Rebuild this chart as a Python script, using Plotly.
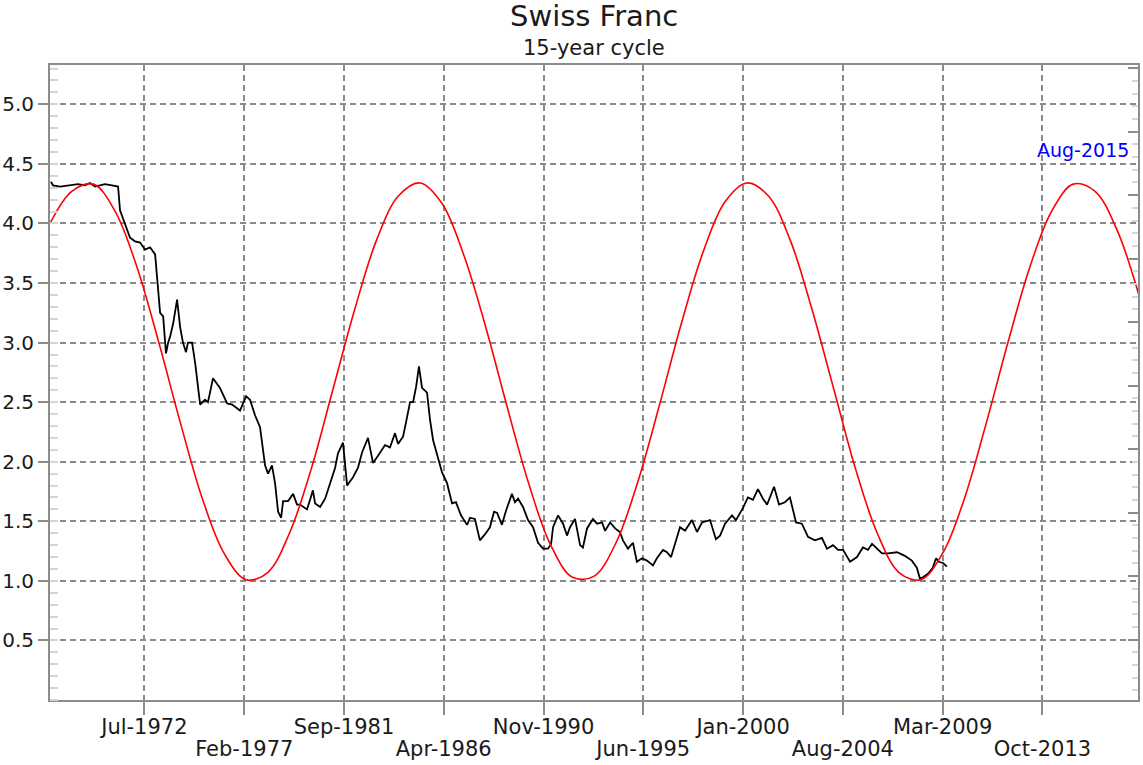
import pandas as pd
import plotly.graph_objects as go

# ---- data ----
# Swiss franc per US dollar (time in decimal years)
black_years = [
    1968.21, 1968.30, 1968.63, 1969.09, 1969.45, 1969.77, 1970.00, 1970.23, 1970.46, 1970.69,
    1971.01, 1971.29, 1971.38, 1971.61, 1971.84, 1972.07, 1972.30, 1972.53, 1972.76, 1972.99,
    1973.08, 1973.22, 1973.36, 1973.49, 1973.59, 1973.68, 1973.82, 1974.00, 1974.14, 1974.27,
    1974.41, 1974.50, 1974.69, 1974.83, 1975.06, 1975.28, 1975.42, 1975.65, 1975.97, 1976.30,
    1976.53, 1976.89, 1977.17, 1977.35, 1977.58, 1977.81, 1978.04, 1978.18, 1978.36, 1978.50,
    1978.64, 1978.78, 1978.87, 1979.10, 1979.33, 1979.51, 1979.65, 1979.97, 1980.11, 1980.24,
    1980.34, 1980.57, 1980.80, 1981.03, 1981.26, 1981.39, 1981.62, 1981.81, 1982.08, 1982.31,
    1982.50, 1982.77, 1983.00, 1983.23, 1983.55, 1983.78, 1984.01, 1984.15, 1984.38, 1984.56,
    1984.70, 1984.84, 1984.98, 1985.11, 1985.25, 1985.48, 1985.62, 1985.76, 1985.94, 1986.17,
    1986.40, 1986.63, 1986.81, 1987.04, 1987.32, 1987.46, 1987.68, 1987.91, 1988.14, 1988.37,
    1988.56, 1988.70, 1988.92, 1989.11, 1989.38, 1989.52, 1989.66, 1989.89, 1990.12, 1990.35,
    1990.58, 1990.81, 1991.04, 1991.18, 1991.27, 1991.50, 1991.73, 1991.91, 1992.05, 1992.28,
    1992.51, 1992.64, 1992.83, 1993.10, 1993.29, 1993.52, 1993.66, 1993.89, 1994.12, 1994.34,
    1994.48, 1994.71, 1994.94, 1995.12, 1995.36, 1995.58, 1995.86, 1996.04, 1996.32, 1996.50,
    1996.69, 1996.87, 1997.10, 1997.33, 1997.65, 1997.88, 1998.11, 1998.48, 1998.75, 1998.94,
    1999.17, 1999.49, 1999.67, 1999.99, 2000.22, 2000.45, 2000.68, 2000.91, 2001.10, 2001.42,
    2001.65, 2001.92, 2002.15, 2002.43, 2002.70, 2002.98, 2003.30, 2003.62, 2003.85, 2004.13,
    2004.36, 2004.59, 2004.91, 2005.23, 2005.50, 2005.73, 2005.92, 2006.15, 2006.38, 2006.65,
    2007.07, 2007.43, 2007.75, 2007.98, 2008.12, 2008.26, 2008.49, 2008.71, 2008.86, 2008.99,
    2009.18, 2009.36,
]
black_values = [
    4.35, 4.32, 4.31, 4.32, 4.33, 4.32, 4.34, 4.31, 4.32, 4.33,
    4.32, 4.31, 4.11, 3.99, 3.88, 3.85, 3.84, 3.78, 3.80, 3.74,
    3.55, 3.25, 3.22, 2.91, 3.00, 3.05, 3.16, 3.36, 3.13, 3.00,
    2.92, 3.00, 3.00, 2.83, 2.48, 2.52, 2.50, 2.70, 2.62, 2.49,
    2.48, 2.43, 2.55, 2.52, 2.39, 2.29, 1.97, 1.90, 1.97, 1.82,
    1.58, 1.53, 1.67, 1.67, 1.73, 1.64, 1.64, 1.60, 1.68, 1.76,
    1.65, 1.62, 1.69, 1.83, 1.95, 2.07, 2.16, 1.80, 1.87, 1.95,
    2.08, 2.20, 1.99, 2.05, 2.14, 2.12, 2.24, 2.15, 2.21, 2.37,
    2.50, 2.50, 2.63, 2.80, 2.62, 2.58, 2.35, 2.18, 2.07, 1.91,
    1.82, 1.65, 1.66, 1.55, 1.47, 1.53, 1.52, 1.34, 1.39, 1.45,
    1.58, 1.57, 1.47, 1.59, 1.73, 1.66, 1.69, 1.62, 1.51, 1.45,
    1.32, 1.27, 1.27, 1.31, 1.45, 1.55, 1.48, 1.38, 1.45, 1.52,
    1.30, 1.28, 1.44, 1.52, 1.48, 1.49, 1.42, 1.49, 1.44, 1.41,
    1.34, 1.27, 1.32, 1.16, 1.19, 1.17, 1.13, 1.19, 1.26, 1.24,
    1.20, 1.32, 1.45, 1.42, 1.51, 1.41, 1.49, 1.51, 1.35, 1.38,
    1.48, 1.55, 1.51, 1.61, 1.70, 1.68, 1.77, 1.69, 1.64, 1.79,
    1.64, 1.66, 1.70, 1.49, 1.48, 1.37, 1.34, 1.36, 1.27, 1.30,
    1.26, 1.26, 1.16, 1.20, 1.28, 1.26, 1.31, 1.27, 1.23, 1.23,
    1.24, 1.21, 1.17, 1.11, 1.02, 1.03, 1.06, 1.11, 1.19, 1.16,
    1.15, 1.12,
]

# 15-year cycle curve (one reading per year, March)
cycle_dates = [f"{y}-03-01" for y in range(1968, 2019)]
cycle_values = [
    4.00, 4.27, 4.33, 4.10, 3.63, 3.00, 2.32, 1.69, 1.23, 1.01,
    1.07, 1.40, 1.94, 2.61, 3.28, 3.86, 4.23, 4.34, 4.17, 3.74,
    3.14, 2.46, 1.81, 1.30, 1.03, 1.04, 1.32, 1.83, 2.48, 3.16,
    3.76, 4.18, 4.34, 4.23, 3.86, 3.28, 2.61, 1.94, 1.40, 1.07,
    1.01, 1.23, 1.69, 2.32, 3.00, 3.63, 4.10, 4.33, 4.27, 3.95,
    3.41,
]

tick_dates = ["1972-07-01", "1977-02-01", "1981-09-01", "1986-04-01", "1990-11-01",
              "1995-06-01", "2000-01-01", "2004-08-01", "2009-03-01", "2013-10-01"]
tick_labels = ["Jul-1972", "Feb-1977", "Sep-1981", "Apr-1986", "Nov-1990",
               "Jun-1995", "Jan-2000", "Aug-2004", "Mar-2009", "Oct-2013"]
y_ticks = [0.5, 1.0, 1.5, 2.0, 2.5, 3.0, 3.5, 4.0, 4.5, 5.0]

peak_label = "Aug-2015"
peak_date = "2015-08-10"
peak_label_y = 4.62


def dec_to_date(y):
    year = int(y)
    start = pd.Timestamp(year=year, month=1, day=1)
    end = pd.Timestamp(year=year + 1, month=1, day=1)
    return start + (end - start) * (y - year)


black_dates = [dec_to_date(v) for v in black_years]

# alternate rows of x tick labels: first row on x, second row on x2
row1_text = [lab if i % 2 == 0 else "" for i, lab in enumerate(tick_labels)]
row2_vals = [d for i, d in enumerate(tick_dates) if i % 2 == 1]
row2_text = [lab for i, lab in enumerate(tick_labels) if i % 2 == 1]

FONT = "DejaVu Sans"
GRID = "#8a8a8a"
AXIS = "#8c8c8c"
TXT = "#1a1a1a"
X_RANGE = ["1968-03-01", "2018-02-20"]

fig = go.Figure()
fig.add_trace(go.Scatter(x=black_dates, y=black_values, mode="lines",
                         line=dict(color="#000000", width=1.8), showlegend=False,
                         hoverinfo="skip"))
fig.add_trace(go.Scatter(x=cycle_dates, y=cycle_values, mode="lines",
                         line=dict(color="#ff0000", width=1.6, shape="spline"),
                         showlegend=False, hoverinfo="skip"))
fig.add_trace(go.Scatter(x=[], y=[], yaxis="y2", showlegend=False, hoverinfo="skip"))
fig.add_trace(go.Scatter(x=[], y=[], xaxis="x2", showlegend=False, hoverinfo="skip"))

fig.update_layout(
    width=1143, height=765,
    margin=dict(l=50, r=5, t=65, b=65, autoexpand=False),
    paper_bgcolor="white", plot_bgcolor="white",
    font=dict(family=FONT, color=TXT),
    xaxis=dict(
        type="date", range=X_RANGE, automargin=False,
        tickmode="array", tickvals=tick_dates, ticktext=row1_text,
        ticks="outside", ticklen=13, tickcolor=AXIS, tickwidth=1.5,
        ticklabelstandoff=-6,
        tickfont=dict(family=FONT, size=21, color=TXT),
        showgrid=True, gridcolor=GRID, gridwidth=1.5, griddash="6px,4px",
        showline=True, linecolor=AXIS, linewidth=2, mirror=True, zeroline=False,
    ),
    xaxis2=dict(
        type="date", range=X_RANGE, overlaying="x", side="bottom", anchor="y",
        automargin=False, tickmode="array", tickvals=row2_vals, ticktext=row2_text,
        ticks="outside", ticklen=13, tickcolor=AXIS, tickwidth=1.5,
        ticklabelstandoff=17,
        tickfont=dict(family=FONT, size=21, color=TXT),
        showgrid=False, showline=False, zeroline=False,
    ),
    yaxis=dict(
        range=[0, 5.33], tickmode="array", tickvals=y_ticks, automargin=False,
        ticktext=[f"{v:.1f}" for v in y_ticks],
        ticks="outside", ticklen=10, tickcolor=AXIS, tickwidth=1.5,
        tickfont=dict(family=FONT, size=20, color=TXT),
        showgrid=True, gridcolor=GRID, gridwidth=1.5, griddash="6px,4px",
        showline=True, linecolor=AXIS, linewidth=2, mirror=True, zeroline=False,
        minor=dict(tickmode="linear", tick0=0, dtick=0.1, ticks="inside",
                   ticklen=8, tickcolor="#d6d6d6", tickwidth=1.5, showgrid=False),
    ),
    yaxis2=dict(
        overlaying="y", side="right", range=[0.05, 10.05], automargin=False,
        tickmode="linear", tick0=0, dtick=1, ticks="inside", ticklen=10,
        tickcolor=AXIS, tickwidth=1.5, showticklabels=False, showgrid=False,
        zeroline=False, showline=False,
        minor=dict(tickmode="linear", tick0=0, dtick=0.2, ticks="inside",
                   ticklen=6, tickcolor="#d6d6d6", tickwidth=1.5, showgrid=False),
    ),
    annotations=[
        dict(text="Swiss Franc", xref="paper", yref="paper", x=0.5, y=1,
             yanchor="middle", yshift=49, showarrow=False,
             font=dict(family=FONT, size=29, color=TXT)),
        dict(text="15-year cycle", xref="paper", yref="paper", x=0.5, y=1,
             yanchor="middle", yshift=17, showarrow=False,
             font=dict(family=FONT, size=21, color=TXT)),
        dict(text=peak_label, x=peak_date, y=peak_label_y, xref="x", yref="y",
             showarrow=False, font=dict(family=FONT, size=19, color="#0000ff")),
    ],
)

fig.write_html("out.html", config={"displayModeBar": False},
               post_script="document.body.style.margin='0px';document.body.style.overflow='hidden';")
